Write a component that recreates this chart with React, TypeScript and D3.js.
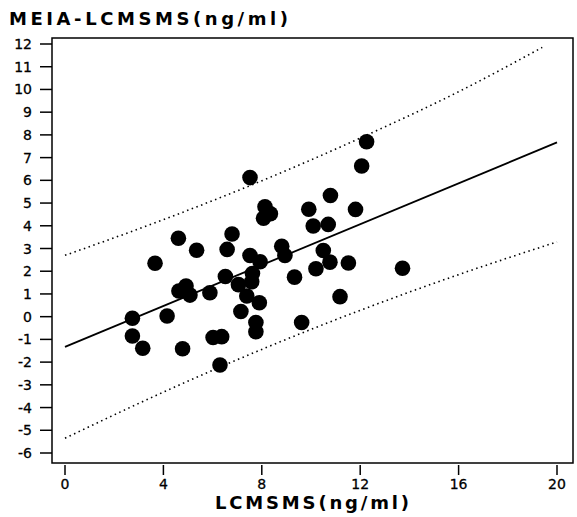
import React from "react";
import * as d3 from "d3";

const xs = [2.74, 2.74, 3.16, 3.66, 4.15, 4.63, 4.92, 5.08, 4.78, 4.61, 5.35, 6.79, 6.59, 6.52, 7.05, 5.89, 7.15, 6.02, 6.37, 6.3, 12.26, 12.06, 7.52, 10.79, 8.13, 8.35, 8.07, 9.91, 11.81, 10.09, 10.7, 7.52, 7.93, 8.81, 8.94, 10.5, 10.77, 11.52, 13.72, 7.62, 7.59, 9.33, 10.2, 7.39, 7.9, 11.18, 7.76, 7.76, 9.62];
const ys = [-0.07, -0.85, -1.39, 2.35, 0.03, 1.13, 1.35, 0.95, -1.41, 3.45, 2.92, 3.64, 2.96, 1.77, 1.41, 1.05, 0.23, -0.92, -0.88, -2.13, 7.7, 6.63, 6.12, 5.33, 4.84, 4.53, 4.33, 4.73, 4.72, 3.99, 4.06, 2.69, 2.42, 3.1, 2.69, 2.91, 2.4, 2.36, 2.13, 1.9, 1.54, 1.74, 2.11, 0.91, 0.61, 0.88, -0.26, -0.66, -0.26];

const fitX = [0, 20];
const fitY = [-1.33, 7.67];
const upperX = [0, 4, 8, 12, 16, 19.4];
const upperY = [2.7, 4.27, 5.98, 7.86, 9.9, 11.85];
const lowerX = [0, 4, 8, 12, 16, 20];
const lowerY = [-5.35, -3.32, -1.44, 0.28, 1.85, 3.29];

const xTicks = [0, 4, 8, 12, 16, 20];
const yTicks = [12, 11, 10, 9, 8, 7, 6, 5, 4, 3, 2, 1, 0, -1, -2, -3, -4, -5, -6];
const xTitle = "LCMSMS(ng/ml)";
const yTitle = "MEIA-LCMSMS(ng/ml)";

export default function App() {
  const W = 577, H = 517;
  const frame = { l: 52, r: 573, t: 38, b: 463 };
  const x = d3.scaleLinear().domain([0, 20]).range([65, 557]);
  const y = d3.scaleLinear().domain([-6, 12]).range([453, 44]);
  const mk = (X: number[], Y: number[]) =>
    d3.line<number>().x((d) => x(d)).y((_, i) => y(Y[i])).curve(d3.curveMonotoneX)(X) || "";
  const font = "'DejaVu Sans', sans-serif";
  return (
    <svg width={W} height={H} style={{ position: "absolute", left: 0, top: 0, background: "#fff" }}>
      <rect x={0} y={0} width={W} height={H} fill="#fff" />
      <rect x={frame.l} y={frame.t} width={frame.r - frame.l} height={frame.b - frame.t} fill="none" stroke="#000" strokeWidth={1.5} />
      {yTicks.map((t) => (
        <g key={"y" + t}>
          <line x1={40} x2={frame.l} y1={y(t)} y2={y(t)} stroke="#000" strokeWidth={1.5} />
          <text x={32} y={y(t)} dy="0.36em" textAnchor="end" fontFamily={font} fontSize={14} fill="#000" stroke="#000" strokeWidth={0.3}>{t}</text>
        </g>
      ))}
      {xTicks.map((t) => (
        <g key={"x" + t}>
          <line x1={x(t)} x2={x(t)} y1={frame.b + 2} y2={frame.b + 12} stroke="#000" strokeWidth={1.5} />
          <text x={x(t)} y={489} textAnchor="middle" fontFamily={font} fontSize={14} fill="#000" stroke="#000" strokeWidth={0.3}>{t}</text>
        </g>
      ))}
      <text x={9} y={25} fontFamily={font} fontWeight="bold" fontSize={18} textLength={279} fill="#000">{yTitle}</text>
      <text x={312} y={509} textAnchor="middle" fontFamily={font} fontWeight="bold" fontSize={18} textLength={194} fill="#000">{xTitle}</text>
      <path d={mk(upperX, upperY)} fill="none" stroke="#000" strokeWidth={1.6} strokeDasharray="1.5,3.5" />
      <path d={mk(lowerX, lowerY)} fill="none" stroke="#000" strokeWidth={1.6} strokeDasharray="1.5,3.5" />
      <path d={mk(fitX, fitY)} fill="none" stroke="#000" strokeWidth={1.8} />
      {xs.map((v, i) => (
        <circle key={i} cx={x(v)} cy={y(ys[i])} r={7.8} fill="#000" />
      ))}
    </svg>
  );
}
